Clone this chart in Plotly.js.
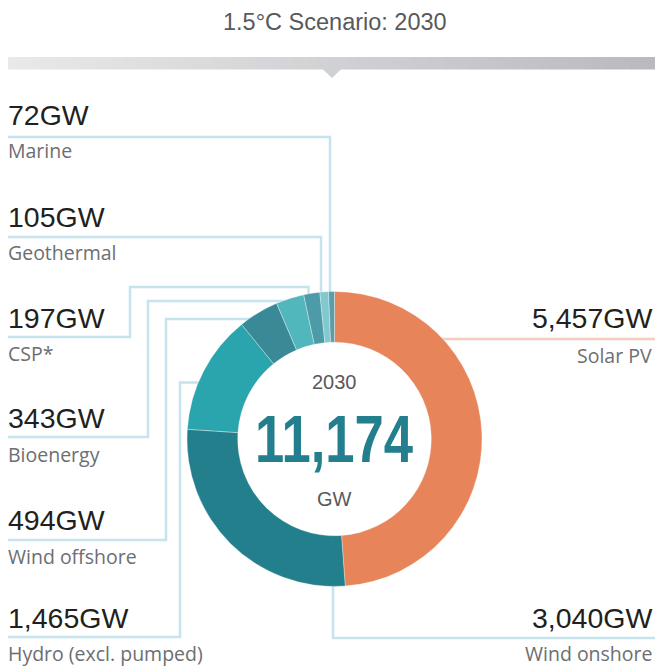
<!DOCTYPE html>
<html>
<head>
<meta charset="utf-8">
<script src="https://cdn.plot.ly/plotly-3.0.1.min.js"></script>
<style>
html,body{margin:0;padding:0;background:#fff;}
#chart{width:655px;height:666px;}
</style>
</head>
<body>
<div id="chart"></div>
<script>
// ---- data ----
const categories = ["Solar PV","Wind onshore","Hydro (excl. pumped)","Wind offshore","Bioenergy","CSP*","Geothermal","Marine"];
const capacityGW = [5457, 3040, 1465, 494, 343, 197, 105, 72];
const sliceColors = ["#E8845A","#247F8D","#2AA5AD","#398A96","#52B7BD","#4D9BA8","#7FC9CF","#5C9DA9"];
const chartTitle = "1.5°C Scenario: 2030";
const centerYear = "2030";
const centerTotal = "11,174";
const centerUnit = "GW";

// ---- layout geometry (pixels) ----
const W = 655, H = 666;
const cx = 334.5, cy = 439, R = 147.5, holeFrac = 0.656;
const px = x => x / W;
const py = y => 1 - y / H;
const fmt = v => v.toLocaleString("en-US") + "GW";

// circle intersections
const xAtY = (y, side) => cx + side * Math.sqrt(Math.max(0, R*R - (y-cy)*(y-cy)));
const yAtX = (x, side) => cy + side * Math.sqrt(Math.max(0, R*R - (x-cx)*(x-cx)));

const lineColor = "#C6E4EE";
const solarLineColor = "#F6CDBB";
const lw = 2.5;

// label rows: index into data, value center y, label center y
const leftRows = [
  {i:7, vy:115, ty:150},
  {i:6, vy:217, ty:252},
  {i:5, vy:318, ty:353},
  {i:4, vy:418, ty:454},
  {i:3, vy:520, ty:556},
  {i:2, vy:618, ty:653}
];
const rightRows = [
  {i:0, vy:318, ty:355},
  {i:1, vy:618, ty:653}
];

function pathStr(pts){
  return pts.map((p,k)=>(k?"L":"M")+px(p[0]).toFixed(5)+","+py(p[1]).toFixed(5)).join(" ");
}
const inset = 4; // lines run slightly under the ring
const leaderPaths = [
  {pts:[[8,137],[330,137],[330,yAtX(330,-1)+inset]], c:lineColor},
  {pts:[[8,237],[321,237],[321,yAtX(321,-1)+inset]], c:lineColor},
  {pts:[[8,337],[130,337],[130,287],[308.5,287],[308.5,yAtX(308.5,-1)+inset]], c:lineColor},
  {pts:[[8,437],[148,437],[148,301],[xAtY(301,-1)+inset,301]], c:lineColor},
  {pts:[[8,540],[166,540],[166,319],[xAtY(319,-1)+inset,319]], c:lineColor},
  {pts:[[8,637],[180,637],[180,382.5],[xAtY(382.5,-1)+inset,382.5]], c:lineColor},
  {pts:[[xAtY(339,1)-inset,339],[655,339]], c:solarLineColor},
  {pts:[[333,yAtX(333,1)-inset],[333,638],[655,638]], c:lineColor}
];

const shapes = [];
// gradient header bar
const barX0 = 8, barX1 = 655, barY0 = 57, barY1 = 69.5, nSteps = 80;
const c0 = [232,233,234], c1 = [185,186,190];
function mix(t){ return "rgb(" + c0.map((v,k)=>Math.round(v+(c1[k]-v)*t)).join(",") + ")"; }
for (let s = 0; s < nSteps; s++) {
  const t0 = s / nSteps, t1 = (s + 1) / nSteps;
  shapes.push({type:"rect", xref:"paper", yref:"paper", layer:"below",
    x0:px(barX0+(barX1-barX0)*t0), x1:px(barX0+(barX1-barX0)*t1+0.6),
    y0:py(barY1), y1:py(barY0), line:{width:0}, fillcolor:mix((t0+t1)/2)});
}
shapes.push({type:"path", xref:"paper", yref:"paper", layer:"below",
  path:pathStr([[322.5,69],[341.5,69],[332,78]])+" Z",
  fillcolor:mix((332-barX0)/(barX1-barX0)), line:{width:0}});
leaderPaths.forEach(lp => shapes.push({type:"path", xref:"paper", yref:"paper", layer:"below",
  path:pathStr(lp.pts), line:{color:lp.c, width:lw}, fillcolor:"rgba(0,0,0,0)"}));

const valFont = {family:"Liberation Sans, Arial, Helvetica, sans-serif", size:28.5, color:"#231F20"};
const labFont = {family:"Open Sans, Noto Sans, sans-serif", size:19.5, color:"#6D6E71"};

const annotations = [];
leftRows.forEach(r => {
  annotations.push({xref:"paper", yref:"paper", x:px(6), y:py(r.vy), xanchor:"left", yanchor:"middle",
    text:fmt(capacityGW[r.i]), showarrow:false, font:valFont});
  annotations.push({xref:"paper", yref:"paper", x:px(6), y:py(r.ty), xanchor:"left", yanchor:"middle",
    text:categories[r.i], showarrow:false, font:labFont});
});
rightRows.forEach(r => {
  annotations.push({xref:"paper", yref:"paper", x:px(654), y:py(r.vy), xanchor:"right", yanchor:"middle",
    text:fmt(capacityGW[r.i]), showarrow:false, font:valFont});
  annotations.push({xref:"paper", yref:"paper", x:px(654), y:py(r.ty), xanchor:"right", yanchor:"middle",
    text:categories[r.i], showarrow:false, font:labFont});
});
annotations.push({xref:"paper", yref:"paper", x:px(334.5), y:py(22), xanchor:"center", yanchor:"middle",
  text:chartTitle, showarrow:false, font:{family:"Liberation Sans, Arial, sans-serif", size:23.5, color:"#58595B"}});
annotations.push({xref:"paper", yref:"paper", x:px(334), y:py(382), xanchor:"center", yanchor:"middle",
  text:centerYear, showarrow:false, font:{family:"Liberation Sans, Arial, sans-serif", size:20, color:"#58595B"}});
annotations.push({xref:"paper", yref:"paper", x:px(334.5), y:py(439), xanchor:"center", yanchor:"middle",
  text:centerTotal, showarrow:false, font:{family:"Liberation Sans, Arial, sans-serif", size:66, weight:"bold", color:"#237F8E"}});
annotations.push({xref:"paper", yref:"paper", x:px(334), y:py(498.5), xanchor:"center", yanchor:"middle",
  text:centerUnit, showarrow:false, font:{family:"Liberation Sans, Arial, sans-serif", size:20, color:"#58595B"}});

const trace = {
  type:"pie",
  labels:categories,
  values:capacityGW,
  sort:false,
  direction:"clockwise",
  rotation:0,
  hole:holeFrac,
  textinfo:"none",
  hoverinfo:"label+value",
  marker:{colors:sliceColors, line:{color:"rgba(255,255,255,0.55)", width:0.6}},
  domain:{x:[px(cx-R), px(cx+R)], y:[py(cy+R), py(cy-R)]},
  showlegend:false
};

const layout = {
  width:W, height:H,
  margin:{l:0,r:0,t:0,b:0},
  paper_bgcolor:"#ffffff",
  plot_bgcolor:"#ffffff",
  showlegend:false,
  shapes:shapes,
  annotations:annotations
};

Plotly.newPlot("chart", [trace], layout, {displayModeBar:false, staticPlot:true}).then(() => {
  // condense the big total to match the narrow display face
  document.querySelectorAll("#chart .annotation-text").forEach(t => {
    if (t.textContent === centerTotal) {
      t.setAttribute("textLength", "158");
      t.setAttribute("lengthAdjust", "spacingAndGlyphs");
    }
  });
});
</script>
</body>
</html>
